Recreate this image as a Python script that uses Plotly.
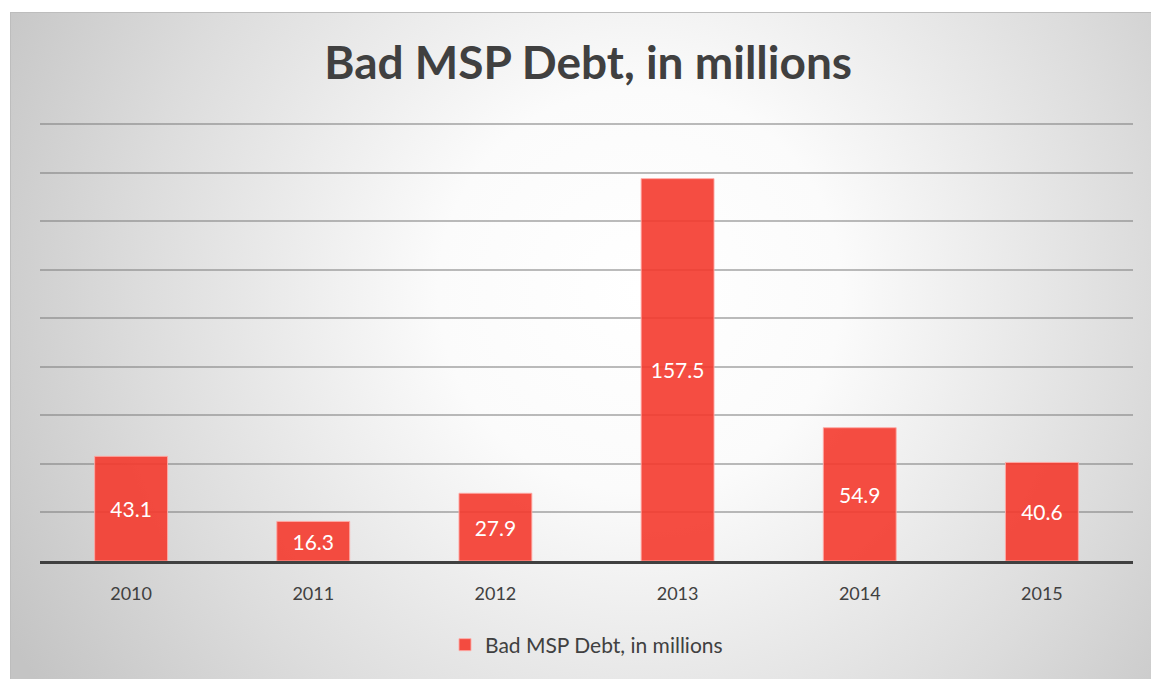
import base64
import plotly.graph_objects as go

years = ["2010", "2011", "2012", "2013", "2014", "2015"]
debt = [43.1, 16.3, 27.9, 157.5, 54.9, 40.6]
labels = ["43.1", "16.3", "27.9", "157.5", "54.9", "40.6"]
series_name = "Bad MSP Debt, in millions"

W, H = 1151, 679
L, R, T, B = 40, 18, 116, 118
pw, ph = W - L - R, H - T - B
ymax = 180 * ph / 437.0

svg = f'''<svg xmlns="http://www.w3.org/2000/svg" width="{W}" height="{H}" viewBox="0 0 {W} {H}">
<defs><radialGradient id="g" gradientUnits="userSpaceOnUse" cx="640" cy="290" r="720">
<stop offset="0" stop-color="#ffffff"/><stop offset="0.28" stop-color="#fbfbfb"/>
<stop offset="0.7" stop-color="#dcdcdc"/><stop offset="1" stop-color="#c4c4c4"/></radialGradient></defs>
<rect x="0" y="0" width="{W}" height="{H}" fill="#ffffff"/>
<rect x="10.5" y="12.5" width="{W}" height="{H}" fill="url(#g)" stroke="#bdbdbd" stroke-width="1"/>
</svg>'''
src = "data:image/svg+xml;base64," + base64.b64encode(svg.encode()).decode()

fig = go.Figure()
fig.add_trace(go.Bar(
    x=years, y=debt, name=series_name, text=labels,
    textposition="inside", insidetextanchor="middle",
    textfont=dict(color="white", size=21, family="Lato"),
    marker=dict(color="rgba(244,58,45,0.9)", line=dict(color="rgba(255,170,165,0.9)", width=1)),
    width=0.4, showlegend=True,
))

fig.update_layout(
    width=W, height=H,
    margin=dict(l=L, r=R, t=T, b=B, pad=0),
    paper_bgcolor="white", plot_bgcolor="rgba(0,0,0,0)",
    title=dict(text="<b>Bad MSP Debt, in millions</b>", x=0.511, xanchor="center",
               y=1 - 63 / H, yanchor="middle",
               font=dict(family="Lato", size=46, color="#404040")),
    font=dict(family="Lato", color="#404040"),
    xaxis=dict(showgrid=False, showline=True, linecolor="#404040", linewidth=3,
               tickfont=dict(size=18, color="#404040"), ticks="", ticklabelstandoff=14),
    yaxis=dict(range=[0, ymax], tickvals=[20, 40, 60, 80, 100, 120, 140, 160, 180],
               showgrid=True, gridcolor="rgba(120,120,120,0.5)",
               gridwidth=1.5, showticklabels=False, zeroline=False),
    legend=dict(orientation="h", x=0.5, xanchor="center", y=-(645 - 561) / ph, yanchor="middle",
                font=dict(size=21, color="#404040"), bgcolor="rgba(0,0,0,0)"),
    bargap=0.6,
    images=[dict(source=src, xref="paper", yref="paper",
                 x=-L / pw, y=(H - B) / ph, sizex=W / pw, sizey=H / ph,
                 xanchor="left", yanchor="top", sizing="stretch", layer="below")],
)

fig.write_html("out.html")
